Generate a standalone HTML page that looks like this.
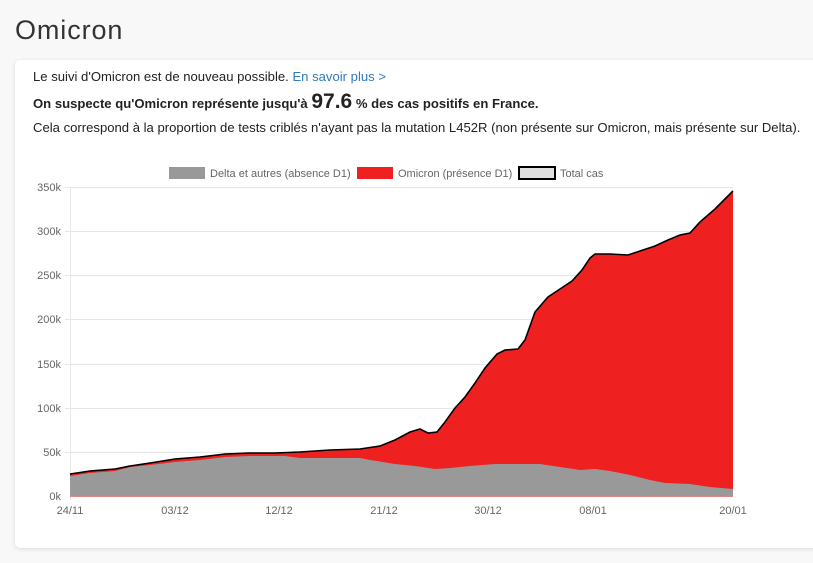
<!DOCTYPE html>
<html><head><meta charset="utf-8"><style>
body{margin:0;width:813px;height:563px;background:#f8f8f8;font-family:"Liberation Sans",sans-serif;overflow:hidden;position:relative}
h1{position:absolute;left:15px;top:15px;margin:0;font-weight:400;font-size:27px;color:#333;letter-spacing:0.9px}
.card{position:absolute;left:15px;top:60px;width:820px;height:488px;background:#fff;border-radius:5px;box-shadow:0 1px 5px rgba(0,0,0,.12)}
.t{position:absolute;left:33px;font-size:13.1px;color:#222;white-space:nowrap}
a{color:#337ab7;text-decoration:none}
</style></head><body>
<h1>Omicron</h1>
<div class="card"></div>
<div class="t" style="top:69px">Le suivi d'Omicron est de nouveau possible. <a>En savoir plus &gt;</a></div>
<div class="t" style="top:90px;font-weight:bold">On suspecte qu'Omicron représente jusqu'à <span style="font-size:21px">97.6</span> % des cas positifs en France.</div>
<div class="t" style="top:120px">Cela correspond à la proportion de tests criblés n'ayant pas la mutation L452R (non présente sur Omicron, mais présente sur Delta).</div>
<svg style="position:absolute;left:0;top:0" width="813" height="563" font-family="Liberation Sans, sans-serif" font-size="11" fill="#666">
<rect x="169" y="167" width="36" height="12" fill="#999"/><text x="210" y="177">Delta et autres (absence D1)</text>
<rect x="357" y="167" width="36" height="12" fill="#ef2020"/><text x="398" y="177">Omicron (présence D1)</text>
<rect x="519" y="167" width="36" height="12" fill="#e0e0e0" stroke="#000" stroke-width="2"/><text x="560" y="177">Total cas</text>
<g stroke="#e6e6e6" stroke-width="1">
<line x1="65" x2="733" y1="187.5" y2="187.5"/><line x1="65" x2="733" y1="231.5" y2="231.5"/><line x1="65" x2="733" y1="275.5" y2="275.5"/><line x1="65" x2="733" y1="319.5" y2="319.5"/><line x1="65" x2="733" y1="364.5" y2="364.5"/><line x1="65" x2="733" y1="408.5" y2="408.5"/><line x1="65" x2="733" y1="452.5" y2="452.5"/>
<line x1="70.5" x2="70.5" y1="187" y2="500"/>
</g>
<g text-anchor="end"><text x="61" y="191">350k</text><text x="61" y="235">300k</text><text x="61" y="279">250k</text><text x="61" y="323">200k</text><text x="61" y="368">150k</text><text x="61" y="412">100k</text><text x="61" y="456">50k</text><text x="61" y="500">0k</text></g>
<g text-anchor="middle"><text x="70" y="514">24/11</text><text x="175" y="514">03/12</text><text x="279" y="514">12/12</text><text x="384" y="514">21/12</text><text x="488" y="514">30/12</text><text x="593" y="514">08/01</text><text x="733" y="514">20/01</text></g>
<polygon fill="#ef2020" points="70,496 70,474 90,471 115,469 130,466 150,463 175,459 200,457 225,454 250,453 275,453 300,452 330,450 360,449 380,446 395,440 410,432 420,429 428,433 437,432 445,422 455,408 465,397 475,383 485,368 497,354 505,350 518,349 525,340 535,312 548,297 560,289 572,281 582,270 590,258 595,254 610,254 628,255 640,251 655,246 668,240 680,235 690,233 700,222 715,209 733,191 733,496"/>
<polygon fill="#999" points="70,496 70,476 90,473 115,471 130,467 150,465 175,462 200,460 225,457 250,456 285,456 300,458 330,458 360,458 370,460 395,464 415,466 435,469 450,468 470,466 495,464 520,464 540,464 560,467 580,470 595,469 610,471 630,475 650,480 665,483 690,484 710,487 733,489 733,496"/>
<polyline fill="none" stroke="#000" stroke-width="1.6" points="70,474 90,471 115,469 130,466 150,463 175,459 200,457 225,454 250,453 275,453 300,452 330,450 360,449 380,446 395,440 410,432 420,429 428,433 437,432 445,422 455,408 465,397 475,383 485,368 497,354 505,350 518,349 525,340 535,312 548,297 560,289 572,281 582,270 590,258 595,254 610,254 628,255 640,251 655,246 668,240 680,235 690,233 700,222 715,209 733,191"/>
<line x1="70" x2="733" y1="496.5" y2="496.5" stroke="#d88" stroke-width="1"/>
</svg>
</body></html>
